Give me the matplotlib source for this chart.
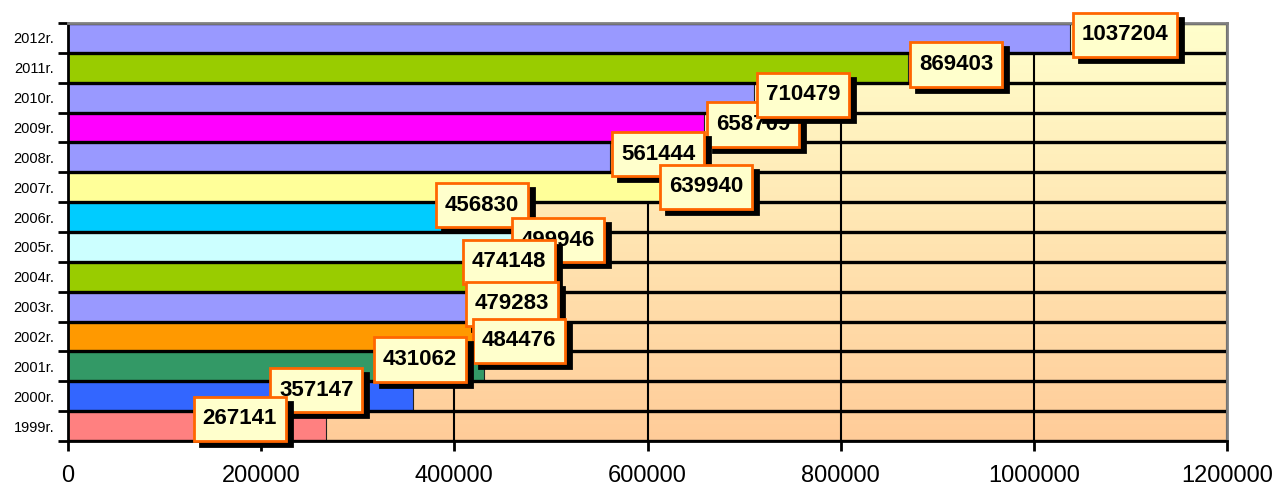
import numpy as np
import matplotlib
matplotlib.use("Agg")
import matplotlib.pyplot as plt

plt.rcParams['font.family'] = ['Liberation Sans', 'DejaVu Sans']

# data (bottom to top)
years = ['1999r.', '2000r.', '2001r.', '2002r.', '2003r.', '2004r.', '2005r.',
         '2006r.', '2007r.', '2008r.', '2009r.', '2010r.', '2011r.', '2012r.']
values = [267141, 357147, 431062, 484476, 479283, 474148, 499946,
          456830, 639940, 561444, 658709, 710479, 869403, 1037204]
bar_colors = ['#FF8080', '#3366FF', '#339966', '#FF9900', '#9999FF', '#99CC00', '#CCFFFF',
              '#00CCFF', '#FFFF99', '#9999FF', '#FF00FF', '#9999FF', '#99CC00', '#9999FF']

# where the value boxes sit (data coords, dragged around like in the original)
label_x = [178000, 257000, 364000, 467000, 459700, 456600, 507300,
           428700, 660600, 610900, 709200, 761000, 919400, 1094400]
label_y = [0.24, 1.20, 2.23, 2.85, 4.09, 5.51, 6.23,
           7.39, 8.02, 9.10, 10.10, 11.10, 12.11, 13.11]
# drawing order of the boxes (last one on top)
label_order = [13, 12, 10, 11, 9, 8, 7, 6, 5, 4, 3, 2, 1, 0]

fig = plt.figure(figsize=(12.78, 4.86), dpi=100)
ax = fig.add_axes([68/1278, 1-441/486, (1227-68)/1278, (441-23)/486])

n = len(years)
ypos = np.arange(n)

# gradient background
grad = np.linspace(0, 1, 256).reshape(-1, 1)
top = np.array([255, 255, 204]) / 255
bot = np.array([255, 204, 153]) / 255
img = top[None, None, :] * (1 - grad[:, :, None]) + bot[None, None, :] * grad[:, :, None]
ax.imshow(img, extent=[0, 1200000, -0.5, n - 0.5], aspect='auto', origin='upper', zorder=0)

for xv in range(200000, 1200001, 200000):
    ax.axvline(xv, color='black', lw=1.5, zorder=1)

ax.barh(ypos, values, height=1.0, color=bar_colors, edgecolor='#222222', linewidth=0.8, zorder=2)

for yb in np.arange(-0.5, n, 1.0):
    ax.axhline(yb, color='black', lw=2.4, zorder=3)

# value labels with shadow
for k, i in enumerate(label_order):
    z = 10 + 2 * k
    txt = str(values[i])
    ax.annotate(txt, (label_x[i], label_y[i]), xytext=(4.3, -3.6), textcoords='offset points',
                ha='center', va='center', fontsize=16, fontweight='bold', color='black',
                bbox=dict(boxstyle='square,pad=0.4', fc='black', ec='black', lw=2,
                          mutation_aspect=1.3), zorder=z)
    ax.annotate(txt, (label_x[i], label_y[i]), ha='center', va='center',
                fontsize=16, fontweight='bold', color='black',
                bbox=dict(boxstyle='square,pad=0.4', fc='#FFFFCC', ec='#FF6600', lw=2,
                          mutation_aspect=1.3), zorder=z + 1)

ax.set_xlim(0, 1200000)
ax.set_ylim(-0.5, n - 0.5)
ax.set_xticks(range(0, 1200001, 200000))
ax.set_xticklabels([str(v) for v in range(0, 1200001, 200000)], fontsize=17)
ax.tick_params(axis='x', direction='out', length=7, width=2, pad=10)

ax.set_yticks(ypos)
ax.set_yticklabels(years, fontsize=10.5)
ax.tick_params(axis='y', which='major', length=0, pad=10)
ax.set_yticks(np.arange(-0.5, n, 1.0), minor=True)
ax.tick_params(axis='y', which='minor', direction='out', length=7, width=2)

ax.spines['left'].set_linewidth(2)
ax.spines['bottom'].set_linewidth(2)
ax.spines['right'].set_color('#808080')
ax.spines['right'].set_linewidth(2)
ax.spines['top'].set_color('#808080')
ax.spines['top'].set_linewidth(2)
for s in ax.spines.values():
    s.set_zorder(5)

plt.savefig('out.png', dpi=100)
